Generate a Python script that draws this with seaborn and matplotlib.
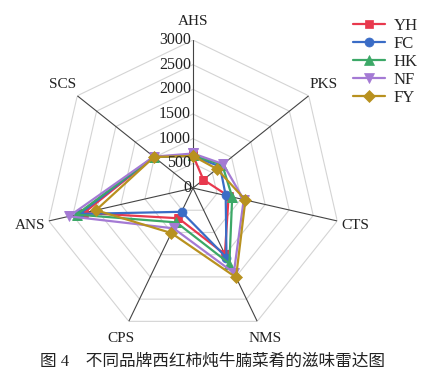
import numpy as np
import pandas as pd
import seaborn as sns
import matplotlib.pyplot as plt

sns.set_style("white")
plt.rcParams['font.family'] = ['Liberation Serif', 'Noto Sans CJK SC', 'DejaVu Sans']

axes_names = ["AHS", "PKS", "CTS", "NMS", "CPS", "ANS", "SCS"]
brands = ["YH", "FC", "HK", "NF", "FY"]
YH = [660, 270, 740, 1490, 680, 2270, 1010]
FC = [650, 700, 680, 1565, 535, 2360, 1010]
HK = [660, 758, 815, 1700, 774, 2420, 1015]
NF = [700, 780, 1055, 1908, 907, 2578, 1020]
FY = [650, 620, 1090, 2010, 1013, 2017, 1010]
r_ticks = [0, 500, 1000, 1500, 2000, 2500, 3000]

colors = {"YH": "#E8384D", "FC": "#3A6CC6", "HK": "#3CA867", "NF": "#A47AD4", "FY": "#B8911F"}
markers = {"YH": "s", "FC": "o", "HK": "^", "NF": "v", "FY": "D"}
msizes = {"YH": 6, "FC": 6.5, "HK": 6.5, "NF": 6.5, "FY": 6}

n = len(axes_names)
theta = np.arange(n) * 2 * np.pi / n
vals = {"YH": YH, "FC": FC, "HK": HK, "NF": NF, "FY": FY}
rows = []
for b in brands:
    v = vals[b]
    for t, y in zip(list(theta) + [2 * np.pi], v + [v[0]]):
        rows.append({"brand": b, "theta": t, "value": y})
df = pd.DataFrame(rows)

fig = plt.figure(figsize=(4.42, 3.77), dpi=100)
ax = fig.add_axes([0.1018, 0.1087, 0.6697, 0.7851], projection="polar")
ax.set_theta_zero_location("N")
ax.set_theta_direction(-1)
ax.set_ylim(0, 3000)
ax.grid(False)
ax.spines["polar"].set_visible(False)
ax.set_xticks([])
ax.set_yticks([])

# heptagon grid + spokes
ring_t = np.append(theta, 2 * np.pi)
for r in r_ticks[1:]:
    ax.plot(ring_t, [r] * len(ring_t), color="#d4d4d4", lw=0.8, zorder=1)
for t in theta:
    ax.plot([t, t], [0, 3000], color="#444444", lw=0.8, zorder=1)

for b in brands:
    sub = df[df["brand"] == b]
    sns.lineplot(data=sub, x="theta", y="value", sort=False, ax=ax, color=colors[b],
                 marker=markers[b], markersize=msizes[b], markeredgecolor=colors[b],
                 markeredgewidth=0.5, lw=1.6, label=b, zorder=3)

ax.set_xlabel("")
ax.set_ylabel("")

for r in r_ticks:
    ax.annotate(str(r), xy=(0, r), xytext=(-1.5, 0), textcoords="offset points",
                ha="right", va="center", fontsize=11.5, color="#222222")

for t, name in zip(theta, axes_names):
    ax.text(t, 3380, name, ha="center", va="center", fontsize=11, color="#222222",
            clip_on=False)

ax.legend(loc="upper left", bbox_to_anchor=(346 / 442, 1 - 11 / 377),
          bbox_transform=fig.transFigure, frameon=False, handlelength=1.95,
          labelspacing=0.13, fontsize=12, borderaxespad=0, handletextpad=0.5)

fig.text(213 / 442, 1 - 362 / 377, "图 4\u2003不同品牌西红柿炖牛腩菜肴的滋味雷达图",
         ha="center", va="center", fontsize=12, color="#222222")

fig.savefig("out.png", dpi=100)
